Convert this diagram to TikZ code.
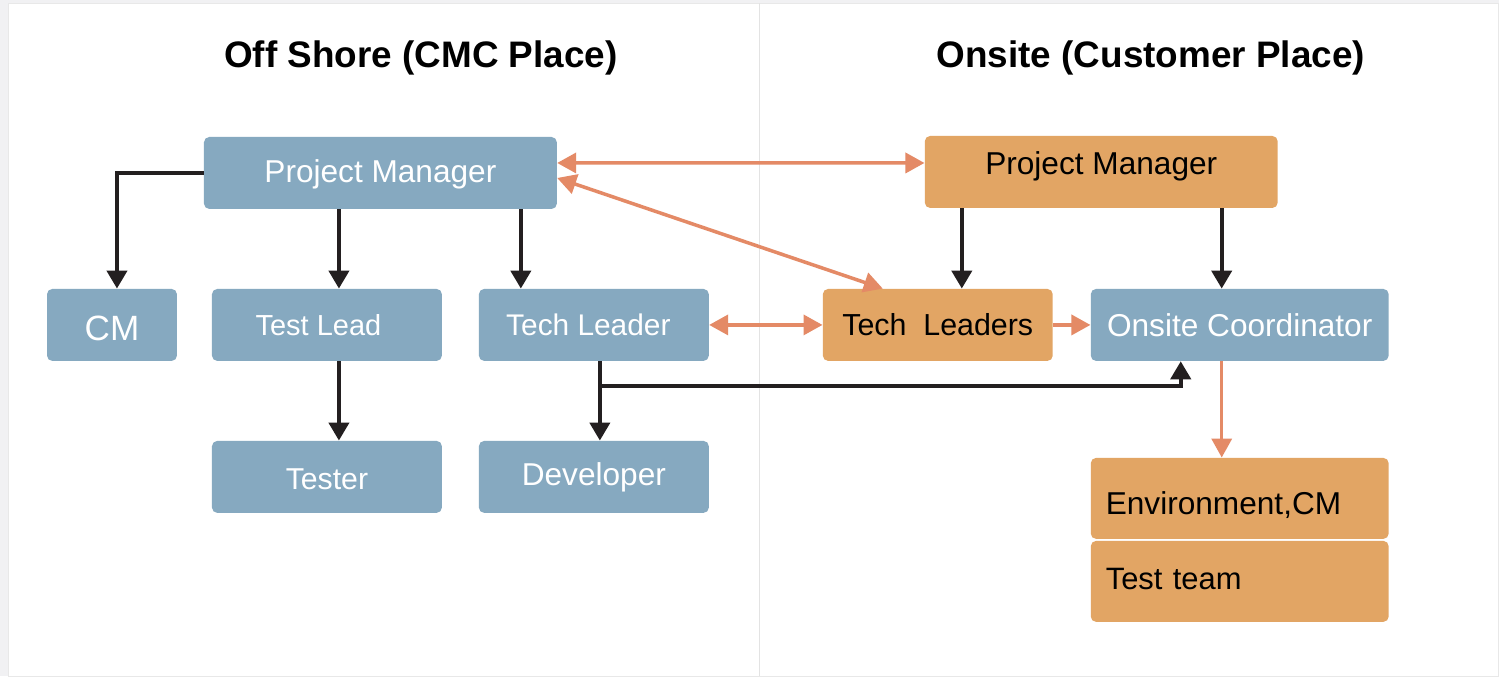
\documentclass[tikz,border=0pt]{standalone}
\usepackage{fontspec}
\setmainfont{Liberation Sans}
\usepackage{xcolor}
\definecolor{TeamBlue}{HTML}{86A9C0}
\definecolor{TeamOrange}{HTML}{E2A564}
\definecolor{LinkOrange}{HTML}{E48A66}
\definecolor{LinkBlack}{HTML}{231F20}
\definecolor{FrameGrey}{HTML}{F1F1F3}
\usepackage{tikz}
\usetikzlibrary{positioning,arrows.meta,calc}
\tikzset{
  offbox/.style={fill=TeamBlue,rounded corners=3pt,align=center,inner sep=0pt,text=white,font=\fontsize{18}{21}\selectfont,minimum width=4.6cm,minimum height=1.44cm},
  onbox/.style={fill=TeamOrange,rounded corners=3pt,align=center,inner sep=0pt,text=black,font=\fontsize{18}{21}\selectfont,minimum width=4.6cm,minimum height=1.44cm},
  listbox/.style={onbox,align=left,text width=5.36cm,inner xsep=0.3cm,minimum width=5.96cm,minimum height=1.62cm},
  sidetitle/.style={font=\fontsize{21}{24}\selectfont\bfseries},
  blackflow/.style={-{Triangle[length=3.6mm,width=4mm]},draw=LinkBlack,line width=2.3pt},
  orangeflow/.style={-{Triangle[length=3.8mm,width=4mm]},draw=LinkOrange,line width=2pt},
  orangeboth/.style={{Triangle[length=3.8mm,width=4mm]}-{Triangle[length=3.8mm,width=4mm]},draw=LinkOrange,line width=2pt}
}
% shift a label up or down inside its box without changing the box
\newcommand{\nudge}[2]{\raisebox{#1}[\height][\depth]{#2}}
\begin{document}
\begin{tikzpicture}[x=0.02cm,y=-0.02cm]
  % page frame and the split between the two sites
  \fill[FrameGrey] (0,0) rectangle (1499,676);
  \fill[white,draw=gray!18] (8,3) rectangle (1499,676);
  \draw[gray!22,line width=0.6pt] (760,3) -- (760,676);

  \node[sidetitle] (offtitle) at (421,58) {Off Shore (CMC Place)};
  \node[sidetitle] (ontitle) at (1151,58) {Onsite (Customer Place)};

  % off shore side
  \node[offbox,minimum width=7.06cm] (offpm) at (380.5,173) {\nudge{-0.03cm}{Project Manager}};
  \node[offbox,minimum width=2.6cm,font=\fontsize{20}{23}\selectfont] (cm) at (112,325) {\nudge{-0.06cm}{CM}};
  \node[offbox,font=\fontsize{16.5}{20}\selectfont] (testlead) at (327,325) {Test Lead\hspace{0.34cm}};
  \node[offbox,font=\fontsize{17}{20}\selectfont] (techlead) at (594,325) {Tech Leader\hspace{0.22cm}};
  \node[offbox,font=\fontsize{17.2}{20}\selectfont] (tester) at (327,477) {\nudge{-0.05cm}{Tester}};
  \node[offbox] (developer) at (594,477) {Developer};

  % onsite side
  \node[onbox,minimum width=7.06cm] (onpm) at (1101.5,172) {\nudge{0.12cm}{Project Manager}};
  \node[onbox,font=\fontsize{17.3}{20}\selectfont] (techleads) at (938,325) {Tech\ \ Leaders};
  \node[offbox,minimum width=5.96cm] (coord) at (1240,325) {Onsite Coordinator};
  \node[listbox] (envcm) at (1240,498.5) {\nudge{-0.13cm}{Environment,CM}};
  \node[listbox,font=\fontsize{17.6}{20}\selectfont] (testteam) at (1240,581.5) {\nudge{0.05cm}{Test team}};

  % reporting lines
  \draw[blackflow] (offpm.west) -| ([xshift=0.1cm]cm.north);
  \draw[blackflow] ([xshift=-0.83cm]offpm.south) -- ([xshift=-0.83cm]offpm.south |- testlead.north);
  \draw[blackflow] ([xshift=2.81cm]offpm.south) -- ([xshift=2.81cm]offpm.south |- techlead.north);
  \draw[blackflow] ([xshift=0.24cm]testlead.south) -- ([xshift=0.24cm]testlead.south |- tester.north);
  \draw[blackflow] ([xshift=0.12cm]techlead.south) -- ([xshift=0.12cm]techlead.south |- developer.north);
  \draw[blackflow] ([xshift=0.12cm,yshift=-0.5cm]techlead.south) -| ([xshift=-1.18cm]coord.south);
  \draw[blackflow] ([xshift=-2.79cm]onpm.south) -- ([xshift=-2.79cm]onpm.south |- techleads.north);
  \draw[blackflow] ([xshift=2.41cm]onpm.south) -- ([xshift=2.41cm]onpm.south |- coord.north);

  % links between the sites
  \draw[orangeboth] ([yshift=0.2cm]offpm.east) -- ([yshift=0.18cm]onpm.west);
  \draw[orangeboth] ([yshift=-0.1cm]offpm.east) -- ([xshift=-1.1cm]techleads.north);
  \draw[orangeboth] (techlead.east) -- (techleads.west);
  \draw[orangeflow] (techleads.east) -- (coord.west);
  \draw[orangeflow] ([xshift=-0.36cm]coord.south) -- ([xshift=-0.36cm]coord.south |- envcm.north);
\end{tikzpicture}
\end{document}
